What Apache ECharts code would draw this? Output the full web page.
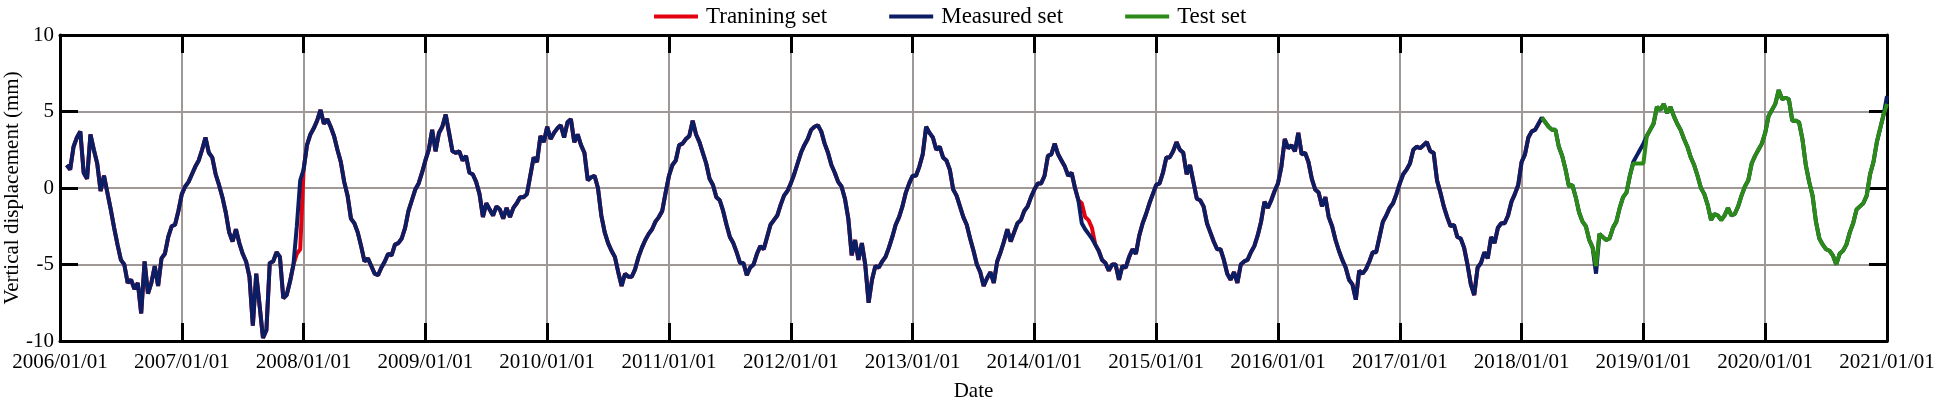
<!DOCTYPE html>
<html><head><meta charset="utf-8">
<script src="https://cdn.jsdelivr.net/npm/echarts@6/dist/echarts.min.js"></script>
<style>html,body{margin:0;padding:0;background:#fff}#c{width:1941px;height:399px}</style>
</head><body><div id="c"></div>
<script>
// ---- data (36 samples per year, sample j at year + j/36) ----
const seriesNames = ['Tranining set', 'Measured set', 'Test set'];
const xMin = 2006, xMax = 2021, xStep = 1;
const yMin = -10, yMax = 10, yStep = 5;
const samplesPerYear = 36;
const years = [2006,2007,2008,2009,2010,2011,2012,2013,2014,2015,2016,2017,2018,2019,2020];

const m2006 = [null,null,1.5,1.2,2.7,3.3,3.7,1.0,0.6,3.5,2.5,1.6,-0.2,0.8,-0.3,-1.4,-2.6,-3.7,-4.7,-5.0,-6.2,-6.0,-6.6,-6.2,-8.2,-4.8,-6.9,-6.2,-5.1,-6.4,-4.6,-4.3,-3.2,-2.5,-2.4,-1.5];
const m2007 = [-0.4,0.1,0.4,0.9,1.4,1.8,2.5,3.3,2.3,2.0,0.9,0.2,-0.6,-1.6,-2.9,-3.5,-2.7,-3.6,-4.3,-4.8,-5.8,-9.0,-5.6,-7.7,-9.8,-9.3,-4.9,-4.8,-4.2,-4.5,-7.2,-7.0,-6.1,-5.0,-2.5,0.5];
const m2008 = [1.2,2.8,3.5,3.9,4.4,5.1,4.2,4.5,4.0,3.4,2.5,1.7,0.4,-0.5,-2.0,-2.3,-2.9,-3.8,-4.8,-4.6,-5.1,-5.6,-5.7,-5.2,-4.8,-4.3,-4.4,-3.7,-3.6,-3.3,-2.6,-1.5,-0.8,-0.1,0.3,1.0];
const m2009 = [1.8,2.5,3.8,2.4,3.6,4.0,4.8,3.6,2.4,2.3,2.4,1.8,2.1,1.0,0.9,0.4,-0.4,-1.9,-1.0,-1.4,-1.8,-1.2,-1.4,-2.0,-1.3,-1.9,-1.3,-1.0,-0.6,-0.6,-0.4,0.8,2.0,1.7,3.4,3.0];
const m2010 = [4.0,3.2,3.6,3.9,4.1,3.3,4.3,4.5,3.0,3.5,2.8,2.3,0.5,0.7,0.8,0.0,-1.8,-2.9,-3.6,-4.1,-4.5,-5.5,-6.4,-5.6,-5.8,-5.8,-5.3,-4.5,-3.9,-3.4,-3.0,-2.7,-2.2,-1.9,-1.5,-0.3];
const m2011 = [0.8,1.5,1.8,2.8,2.9,3.2,3.4,4.4,3.5,3.0,2.3,1.6,0.6,0.2,-0.6,-0.8,-1.5,-2.4,-3.2,-3.6,-4.2,-4.9,-4.9,-5.7,-5.2,-5.0,-4.3,-3.8,-4.0,-3.2,-2.4,-2.1,-1.8,-1.1,-0.5,-0.2];
const m2012 = [0.3,0.9,1.6,2.3,2.8,3.2,3.8,4.0,4.1,3.7,2.9,2.3,1.5,1.0,0.4,0.1,-0.7,-2.0,-4.4,-3.4,-4.7,-3.6,-5.0,-7.5,-6.0,-5.1,-5.2,-4.8,-4.5,-3.9,-3.2,-2.4,-1.9,-1.2,-0.3,0.3];
const m2013 = [0.8,0.8,1.4,2.2,4.0,3.6,3.3,2.5,2.7,2.0,1.8,1.2,-0.1,-0.5,-1.2,-1.9,-2.4,-3.3,-4.1,-5.0,-5.5,-6.4,-5.9,-5.5,-6.2,-4.8,-4.2,-3.5,-2.7,-3.5,-2.9,-2.3,-2.1,-1.5,-1.2,-0.6];
const m2014 = [-0.1,0.3,0.3,0.8,2.1,2.2,2.9,2.2,1.8,1.4,0.8,1.0,0.0,-0.8,-2.3,-2.7,-3.0,-3.3,-3.7,-4.1,-4.7,-4.9,-5.4,-5.0,-5.0,-6.0,-5.1,-5.2,-4.5,-4.0,-4.3,-3.1,-2.3,-1.7,-1.0,-0.4];
const m2015 = [0.2,0.3,1.0,2.0,2.0,2.4,3.0,2.5,2.3,0.9,1.5,0.4,-0.7,-0.8,-1.2,-2.3,-2.9,-3.5,-4.0,-4.0,-4.7,-5.6,-6.0,-5.5,-6.2,-5.0,-4.8,-4.7,-4.2,-3.8,-3.1,-2.2,-0.9,-1.3,-0.8,-0.2];
const m2016 = [0.3,1.4,3.2,2.6,2.8,2.4,3.6,2.2,2.3,1.7,0.6,-0.1,-0.3,-1.2,-0.6,-1.9,-2.5,-3.4,-4.1,-4.7,-5.2,-6.0,-6.3,-7.3,-5.4,-5.6,-5.3,-4.8,-4.2,-4.2,-3.2,-2.2,-1.8,-1.3,-1.0,-0.4];
const m2017 = [0.3,0.9,1.2,1.6,2.5,2.7,2.6,2.8,3.0,2.4,2.3,0.5,-0.3,-1.2,-1.9,-2.5,-2.4,-3.2,-3.3,-3.9,-5.0,-6.3,-7.0,-5.2,-4.9,-4.2,-4.6,-3.2,-3.6,-2.6,-2.3,-2.3,-1.8,-0.9,-0.4,0.2];
const m2018 = [1.7,2.2,3.3,3.7,3.8,4.2,4.6,4.3,4.0,3.8,3.8,2.7,2.1,1.2,0.1,0.2,-0.6,-1.6,-2.2,-2.5,-3.4,-3.9,-5.6,-3.0,-3.2,-3.4,-3.3,-2.6,-2.2,-1.3,-0.6,-0.3,0.8,1.7,2.1,2.5];
const m2019 = [2.9,3.4,3.8,4.2,5.3,5.1,5.5,4.9,5.3,4.7,4.2,3.8,3.2,2.7,2.0,1.5,0.8,0.0,-0.4,-1.1,-2.1,-1.7,-1.8,-2.1,-1.8,-1.3,-1.8,-1.7,-1.2,-0.5,0.1,0.5,1.6,2.1,2.5,2.9];
const m2020 = [3.6,4.7,5.1,5.5,6.4,5.8,5.9,5.8,4.4,4.4,4.3,3.2,1.5,0.4,-0.5,-2.2,-3.3,-3.7,-4.0,-4.1,-4.4,-5.0,-4.3,-4.1,-3.7,-2.9,-2.3,-1.4,-1.2,-1.0,-0.5,0.9,1.7,3.0,3.9,4.8,6.0];

// training set: the measured record up to the split, with the places where it differs
const trainingEnd = [2018, 6];          // last training sample (year, index)
const trainingDiffs = [[2007, 34, -4.3], [2007, 35, -4.0], [2014, 14, -1.0], [2014, 15, -1.9], [2014, 16, -2.1], [2014, 17, -2.6]];

// test set (starts at 2018, sample 6)
const testStart = 6;
const t2018 = [4.6,4.3,4.0,3.8,3.8,2.7,2.1,1.2,0.1,0.2,-0.6,-1.6,-2.2,-2.5,-3.4,-3.9,-5.1,-3.0,-3.2,-3.4,-3.3,-2.6,-2.2,-1.3,-0.6,-0.3,0.8,1.6,1.6,1.6];
const t2019 = [1.6,3.4,3.8,4.2,5.3,5.1,5.5,4.9,5.3,4.7,4.2,3.8,3.2,2.7,2.0,1.5,0.8,0.0,-0.4,-1.1,-2.1,-1.7,-1.8,-2.1,-1.8,-1.3,-1.8,-1.7,-1.2,-0.5,0.1,0.5,1.6,2.1,2.5,2.9];
const t2020 = [3.6,4.7,5.1,5.5,6.4,5.8,5.9,5.8,4.4,4.4,4.3,3.2,1.5,0.4,-0.5,-2.2,-3.3,-3.7,-4.0,-4.1,-4.4,-5.0,-4.3,-4.1,-3.7,-2.9,-2.3,-1.4,-1.2,-1.0,-0.5,0.9,1.7,3.0,3.9,4.8,5.5];

// ---- build series ----
const measuredYears = [m2006,m2007,m2008,m2009,m2010,m2011,m2012,m2013,m2014,m2015,m2016,m2017,m2018,m2019,m2020];
const when = (y, j) => y + j / samplesPerYear;
const measured = [], training = [], test = [];
measuredYears.forEach((arr, k) => {
  const y = years[k];
  arr.forEach((v, j) => {
    if (v === null) return;
    measured.push([when(y, j), v]);
    if (y < trainingEnd[0] || (y === trainingEnd[0] && j <= trainingEnd[1])) {
      const d = trainingDiffs.find(r => r[0] === y && r[1] === j);
      training.push([when(y, j), d ? d[2] : v]);
    }
  });
});
[[2018, t2018, testStart], [2019, t2019, 0], [2020, t2020, 0]].forEach(([y, arr, off]) => {
  arr.forEach((v, j) => test.push([when(y, j + off), v]));
});

// ---- chart ----
const FONT = 'Liberation Serif';
const gridColor = '#9e9896';
const black = '#000';
const tick = {show: true, inside: true, length: 18, lineStyle: {color: black, width: 3}};
const line = {show: true, onZero: false, lineStyle: {color: black, width: 3}};
const chart = echarts.init(document.getElementById('c'), null, {renderer: 'canvas'});
chart.setOption({
  animation: false,
  backgroundColor: '#fff',
  textStyle: {fontFamily: FONT, color: black},
  legend: {
    top: 0, left: 649, icon: 'rect', itemWidth: 44, itemHeight: 4, itemGap: 62,
    textStyle: {fontFamily: FONT, fontSize: 23, color: black, padding: [0, 0, 0, 3]},
    data: seriesNames
  },
  grid: {left: 60, right: 54, top: 35, bottom: 58, containLabel: false, outerBoundsMode: 'none'},
  xAxis: [{
    type: 'value', min: xMin, max: xMax, interval: xStep, position: 'bottom',
    axisLine: line, axisTick: tick,
    splitLine: {show: true, lineStyle: {color: gridColor, width: 2}},
    axisLabel: {formatter: v => v + '/01/01', fontFamily: FONT, fontSize: 21, color: black, margin: 11},
    name: 'Date', nameLocation: 'middle', nameGap: 40, nameMoveOverlap: false,
    nameTextStyle: {fontFamily: FONT, fontSize: 21, color: black}
  }, {
    type: 'value', min: xMin, max: xMax, interval: xStep, position: 'top',
    axisLine: line, axisTick: tick, splitLine: {show: false}, axisLabel: {show: false}
  }],
  yAxis: [{
    type: 'value', min: yMin, max: yMax, interval: yStep, position: 'left',
    axisLine: line, axisTick: tick,
    splitLine: {show: true, lineStyle: {color: gridColor, width: 2}},
    axisLabel: {fontFamily: FONT, fontSize: 21, color: black, margin: 6},
    name: 'Vertical displacement (mm)', nameLocation: 'middle', nameGap: 37, nameMoveOverlap: false,
    nameTextStyle: {fontFamily: FONT, fontSize: 21, color: black}
  }, {
    type: 'value', min: yMin, max: yMax, interval: yStep, position: 'right',
    axisLine: line, axisTick: tick, splitLine: {show: false}, axisLabel: {show: false}
  }],
  series: [
    {name: seriesNames[0], type: 'line', data: training, showSymbol: false, symbol: 'none',
     lineStyle: {color: '#e3000f', width: 4}, itemStyle: {color: '#e3000f'}, z: 2},
    {name: seriesNames[1], type: 'line', data: measured, showSymbol: false, symbol: 'none',
     lineStyle: {color: '#0b1d63', width: 4}, itemStyle: {color: '#0b1d63'}, z: 3},
    {name: seriesNames[2], type: 'line', data: test, showSymbol: false, symbol: 'none',
     lineStyle: {color: '#2c8a18', width: 4}, itemStyle: {color: '#2c8a18'}, z: 4}
  ]
});
</script>
</body></html>
